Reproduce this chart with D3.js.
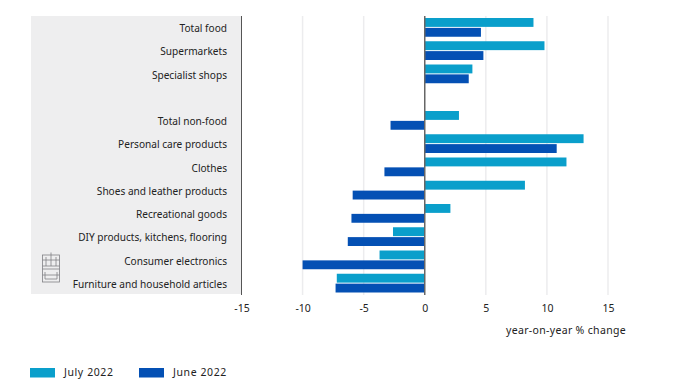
<!DOCTYPE html>
<html>
<head>
<meta charset="utf-8">
<script src="https://cdn.jsdelivr.net/npm/d3@7"></script>
<style>
    body { margin: 0; background: #fff; }
    svg { display: block; }
    text { font-family: "Noto Sans", sans-serif; font-size: 10.5px; fill: #222; }
</style>
</head>
<body>
<svg id="chart" width="676" height="392"></svg>
<script>
const categories = [
    'Total food', 'Supermarkets', 'Specialist shops', '',
    'Total non-food', 'Personal care products', 'Clothes',
    'Shoes and leather products', 'Recreational goods',
    'DIY products, kitchens, flooring', 'Consumer electronics',
    'Furniture and household articles'
];
const july2022 = [8.9, 9.8, 3.9, null, 2.8, 13.0, 11.6, 8.2, 2.1, -2.6, -3.7, -7.2];
const june2022 = [4.6, 4.8, 3.6, null, -2.8, 10.8, -3.3, -5.9, -6.0, -6.3, -10.0, -7.3];
const xTicks = [-15, -10, -5, 0, 5, 10, 15];
const seriesNames = ['July 2022', 'June 2022'];
const seriesColours = ['#0a9fcb', '#0450b4'];

const svg = d3.select('#chart');

const x = d3.scaleLinear().domain([-15, 15]).range([241.5, 608]);
const y = d3.scaleBand().domain(d3.range(categories.length)).range([16, 295]);
const barY = d3.scaleBand().domain([0, 1]).range([2, y.bandwidth() - 2.5]).paddingInner(0.1);

// grey label panel
svg.append('rect')
    .attr('x', 31).attr('y', 16)
    .attr('width', x(-15) - 31).attr('height', 278)
    .attr('fill', '#eeeeef');

// grid
svg.append('g')
    .selectAll('line')
    .data(xTicks.filter(d => d !== -15 && d !== 0))
    .join('line')
    .attr('x1', d => x(d)).attr('x2', d => x(d))
    .attr('y1', 16).attr('y2', 295)
    .attr('stroke', '#ececee')
    .attr('stroke-width', 1.5);

// bars
[july2022, june2022].forEach((series, s) => {
    svg.append('g')
        .selectAll('rect')
        .data(series.map((v, i) => ({ v, i })).filter(d => d.v !== null))
        .join('rect')
        .attr('x', d => x(Math.min(0, d.v)))
        .attr('y', d => y(d.i) + barY(s))
        .attr('width', d => Math.abs(x(d.v) - x(0)))
        .attr('height', barY.bandwidth())
        .attr('fill', seriesColours[s]);
});

// axis lines
svg.append('line')
    .attr('x1', x(-15)).attr('x2', x(-15)).attr('y1', 16).attr('y2', 295)
    .attr('stroke', '#555').attr('stroke-width', 1);
svg.append('line')
    .attr('x1', x(0)).attr('x2', x(0)).attr('y1', 16).attr('y2', 295)
    .attr('stroke', '#666').attr('stroke-width', 1.5);

// category labels
svg.append('g')
    .selectAll('text')
    .data(categories)
    .join('text')
    .attr('x', 227)
    .attr('y', (d, i) => y(i) + y.bandwidth() / 2 + 1.9)
    .attr('text-anchor', 'end')
    .attr('dominant-baseline', 'middle')
    .style('font-size', '10.1px')
    .text(d => d);

// x axis, ticks use a plain hyphen like the original
const xAxis = svg.append('g')
    .attr('transform', 'translate(0,295)')
    .call(d3.axisBottom(x).tickValues(xTicks).tickSize(0).tickPadding(10).tickFormat(d => String(d)));
xAxis.select('.domain').remove();
xAxis.selectAll('text').style('font-family', '"Noto Sans", sans-serif').style('font-size', '10.5px').style('fill', '#222');

svg.append('text')
    .attr('x', 626).attr('y', 334)
    .attr('text-anchor', 'end')
    .style('letter-spacing', '0.33px')
    .text('year-on-year % change');

// legend
const legendX = [30, 139];
seriesNames.forEach((name, i) => {
    svg.append('rect')
        .attr('x', legendX[i]).attr('y', 368)
        .attr('width', 25).attr('height', 9.5)
        .attr('fill', seriesColours[i]);
    svg.append('text')
        .attr('x', legendX[i] + 34).attr('y', 376)
        .style('letter-spacing', '0.6px')
        .text(name);
});

// little clipboard icon in the panel
const icon = svg.append('g')
    .attr('transform', 'translate(42,251)')
    .attr('fill', 'none')
    .attr('stroke', '#808085')
    .attr('stroke-width', 0.8);
icon.append('rect').attr('x', 0.5).attr('y', 4).attr('width', 17).attr('height', 27);
icon.append('path').attr('d', 'M0.5 9H17.5M0.5 15H17.5M0.5 18H17.5M0.5 24H17.5M4 15V6M9 15V1.5M14 15V6M3 21V28H15V21');
</script>
</body>
</html>
